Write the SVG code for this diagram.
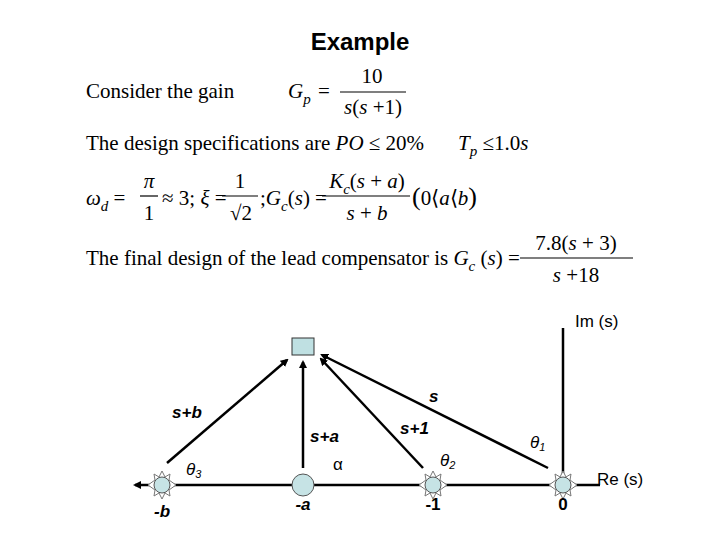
<svg xmlns="http://www.w3.org/2000/svg" width="720" height="540" viewBox="0 0 720 540">
<style>
.t{font-family:"Liberation Serif",serif;font-size:21px;fill:#000}
.i{font-style:italic}
.s{font-size:15px}
.a{font-family:"Liberation Sans",sans-serif;font-size:17px;fill:#000}
.b{font-weight:bold;font-style:italic}
.ln{stroke:#000;stroke-width:2.5;fill:none}
.fr{stroke:#000;stroke-width:1.2}
.pole{fill:#c6e3e5;stroke:#555;stroke-width:1}
</style>
<defs>
<marker id="ah" markerWidth="8" markerHeight="8" refX="6" refY="4" orient="auto" markerUnits="userSpaceOnUse" viewBox="0 0 8 8"><path d="M0,0 L8,4 L0,8 z" fill="#000"/></marker>
<g id="star"><polygon points="0,-14 3,-8 8,-11 7,-5 14,0 7,5 8,11 3,8 0,14 -3,8 -8,11 -7,5 -14,0 -7,-5 -8,-11 -3,-8" fill="#fff" stroke="#777" stroke-width="1"/><circle r="8" class="pole"/></g>
</defs>
<rect width="720" height="540" fill="#fff"/>
<text x="360" y="50" text-anchor="middle" font-family="Liberation Sans,sans-serif" font-weight="bold" font-size="24">Example</text>
<g id="text">
<text x="86" y="98" class="t">Consider the gain</text>
<text x="288" y="98" class="t i">G<tspan class="s" dy="6">p</tspan></text>
<text x="318" y="98" class="t">=</text>
<text x="372" y="83" class="t" text-anchor="middle">10</text>
<line x1="340" y1="92" x2="406" y2="92" class="fr"/>
<text x="373" y="114" class="t" text-anchor="middle"><tspan class="i">s</tspan>(<tspan class="i">s</tspan> +1)</text>
<text x="86" y="150" class="t">The design specifications are <tspan class="i">PO</tspan> ≤ 20%</text>
<text x="458" y="150" class="t"><tspan class="i">T</tspan><tspan class="s i" dy="6">p</tspan><tspan dy="-6"> ≤1.0</tspan><tspan class="i">s</tspan></text>
<text x="86" y="205" class="t"><tspan class="i">ω</tspan><tspan class="s i" dy="6">d</tspan><tspan dy="-6"> =</tspan></text>
<text x="149" y="188" class="t i" text-anchor="middle">π</text>
<line x1="140" y1="196" x2="158" y2="196" class="fr"/>
<text x="149" y="220" class="t" text-anchor="middle">1</text>
<text x="162" y="205" class="t">≈ 3; <tspan class="i">ξ</tspan> =</text>
<text x="240" y="188" class="t" text-anchor="middle">1</text>
<line x1="222" y1="196" x2="258" y2="196" class="fr"/>
<text x="241" y="220" class="t" text-anchor="middle">√2</text>
<text x="260" y="205" class="t">;<tspan class="i">G</tspan><tspan class="s i" dy="6">c</tspan><tspan dy="-6">(</tspan><tspan class="i">s</tspan>) =</text>
<text x="367" y="188" class="t" text-anchor="middle"><tspan class="i">K</tspan><tspan class="s i" dy="6">c</tspan><tspan dy="-6">(</tspan><tspan class="i">s</tspan> + <tspan class="i">a</tspan>)</text>
<line x1="322" y1="196" x2="410" y2="196" class="fr"/>
<text x="367" y="220" class="t" text-anchor="middle"><tspan class="i">s</tspan> + <tspan class="i">b</tspan></text>
<text x="412" y="205" class="t"><tspan font-size="26">(</tspan>0⟨<tspan class="i">a</tspan>⟨<tspan class="i">b</tspan><tspan font-size="26">)</tspan></text>
<text x="86" y="265" class="t">The final design of  the lead compensator is <tspan class="i">G</tspan><tspan class="s i" dy="6">c</tspan><tspan dy="-6"> (</tspan><tspan class="i">s</tspan>) =</text>
<text x="576" y="250" class="t" text-anchor="middle">7.8(<tspan class="i">s</tspan> + 3)</text>
<line x1="520" y1="258" x2="633" y2="258" class="fr"/>
<text x="576" y="282" class="t" text-anchor="middle"><tspan class="i">s</tspan> +18</text>
</g>
<g id="connectors">
<line x1="600" y1="485" x2="135" y2="485" class="ln" marker-end="url(#ah)"/>
<line x1="563" y1="485" x2="563" y2="328" class="ln"/>
<line x1="167" y1="463" x2="287" y2="360" class="ln" marker-end="url(#ah)"/>
<line x1="303" y1="468" x2="303" y2="362" class="ln" marker-end="url(#ah)"/>
<line x1="423" y1="468" x2="321" y2="359" class="ln" marker-end="url(#ah)"/>
<line x1="548" y1="468" x2="322" y2="355" class="ln" marker-end="url(#ah)"/>
</g>
<g id="point"><rect x="292" y="338" width="22" height="17" fill="#bfe0e2" stroke="#333" stroke-width="1"/></g>
<g id="pole-b"><use href="#star" x="162" y="485"/></g>
<g id="zero-a"><circle cx="303" cy="485" r="11" class="pole"/></g>
<g id="pole-1"><use href="#star" x="433" y="485"/></g>
<g id="pole-0"><use href="#star" x="563" y="485"/></g>
<g id="labels" class="a">
<text x="575" y="327">Im (s)</text>
<text x="597" y="485">Re (s)</text>
<text x="429" y="402" class="b">s</text>
<text x="172" y="418" class="b">s+b</text>
<text x="310" y="442" class="b">s+a</text>
<text x="400" y="434" class="b">s+1</text>
<text x="530" y="448" font-style="italic">θ<tspan font-size="11" dy="3">1</tspan></text>
<text x="440" y="466" font-style="italic">θ<tspan font-size="11" dy="3">2</tspan></text>
<text x="186" y="475" font-style="italic">θ<tspan font-size="11" dy="3">3</tspan></text>
<text x="333" y="470">α</text>
<text x="162" y="517" text-anchor="middle" class="b">-b</text>
<text x="303" y="510" text-anchor="middle" class="b">-a</text>
<text x="433" y="510" text-anchor="middle" font-weight="bold">-1</text>
<text x="563" y="510" text-anchor="middle" font-weight="bold">0</text>
</g>
</svg>
